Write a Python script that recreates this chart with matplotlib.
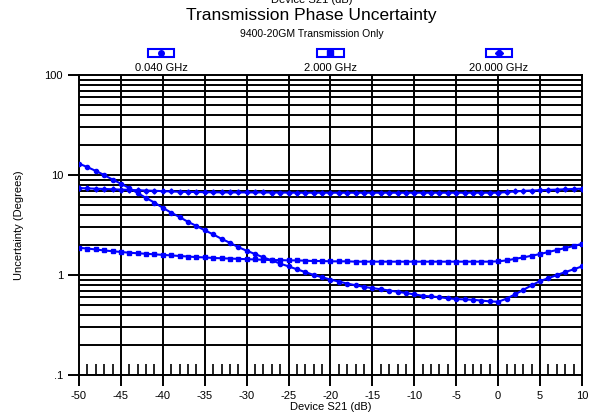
import numpy as np
import matplotlib.pyplot as plt
from matplotlib.patches import Rectangle

plt.rcParams['font.family'] = ['Liberation Sans', 'DejaVu Sans']
plt.rcParams['axes.unicode_minus'] = False

# Device S21 (dB)
s21 = list(range(-50, 11))

# 0.040 GHz (кружки)
u_040 = [13.0, 12.0, 11.0, 10.0, 9.0, 8.2, 7.4, 6.6, 5.9, 5.3,
         4.7, 4.2, 3.8, 3.4, 3.1, 2.8, 2.55, 2.3, 2.1, 1.9,
         1.75, 1.62, 1.5, 1.4, 1.3, 1.22, 1.14, 1.07, 1.0, 0.95,
         0.9, 0.86, 0.82, 0.79, 0.76, 0.74, 0.72, 0.70, 0.68, 0.66,
         0.64, 0.62, 0.61, 0.60, 0.585, 0.575, 0.57, 0.565, 0.555, 0.545,
         0.54, 0.58, 0.64, 0.71, 0.79, 0.87, 0.93, 1.0, 1.07, 1.14, 1.22]

# 2.000 GHz (квадраты)
u_2000 = [1.87, 1.84, 1.80, 1.76, 1.73, 1.70, 1.67, 1.65, 1.63, 1.61,
          1.59, 1.57, 1.55, 1.53, 1.51, 1.50, 1.48, 1.47, 1.46, 1.45,
          1.44, 1.43, 1.42, 1.41, 1.41, 1.40, 1.40, 1.39, 1.38, 1.38,
          1.37, 1.37, 1.37, 1.36, 1.36, 1.36, 1.36, 1.36, 1.36, 1.36,
          1.36, 1.36, 1.36, 1.36, 1.36, 1.36, 1.36, 1.36, 1.36, 1.36,
          1.37, 1.40, 1.45, 1.50, 1.56, 1.62, 1.70, 1.78, 1.86, 1.95, 2.05]

# 20.000 GHz (ромбы)
u_20000 = [7.4, 7.35, 7.3, 7.25, 7.2, 7.15, 7.1, 7.05, 7.0, 6.95,
           6.9, 6.85, 6.8, 6.78, 6.76, 6.74, 6.72, 6.71, 6.7, 6.7,
           6.7, 6.7, 6.7, 6.68, 6.68, 6.66, 6.66, 6.65, 6.65, 6.65,
           6.65, 6.65, 6.65, 6.65, 6.65, 6.65, 6.65, 6.65, 6.65, 6.65,
           6.65, 6.65, 6.65, 6.65, 6.65, 6.65, 6.65, 6.65, 6.65, 6.65,
           6.65, 6.75, 6.85, 6.95, 7.0, 7.05, 7.1, 7.15, 7.2, 7.25, 7.3]

labels = ['0.040 GHz', '2.000 GHz', '20.000 GHz']
markers = ['o', 's', 'D']
series = [u_040, u_2000, u_20000]
blue = '#0000ff'

fig = plt.figure(figsize=(5.97, 4.17), dpi=100)
ax = fig.add_axes([0.1323, 0.1007, 0.8426, 0.7194])

# Сетка
for yv in [k * 10.0 ** d for d in (-1, 0, 1) for k in range(1, 10)]:
    ax.axhline(yv, color='black', lw=1.4, zorder=1)
for xv in range(-45, 10, 5):
    ax.axvline(xv, color='black', lw=1.4, zorder=1)

# Кривые
msizes = [3, 2.6, 2.6]
for u, m, ms in zip(series, markers, msizes):
    ax.plot(s21, u, color=blue, lw=1.5, marker=m, ms=ms, zorder=3)

ax.set_yscale('log')
ax.set_xlim(-50, 10)
ax.set_ylim(0.1, 100)
ax.set_xticks(range(-50, 11, 5))
ax.set_xticks(range(-50, 11), minor=True)
ax.set_yticks([0.1, 1, 10, 100])
ax.set_yticklabels(['.1', '1', '10', '100'])
ax.yaxis.set_minor_locator(plt.NullLocator())
ax.tick_params(axis='both', which='major', direction='out', length=8, width=1.4, labelsize=8)
ax.tick_params(axis='x', which='minor', direction='in', length=8, width=1.2)
for sp in ax.spines.values():
    sp.set_linewidth(1.4)

ax.set_xlabel('Device S21 (dB)', fontsize=8, labelpad=1)
ax.set_ylabel('Uncertainty (Degrees)', fontsize=8, labelpad=15)

# Легенда сверху
xpos = [0.163, 0.5, 0.834]
bw, bh = 26 / 503, 8 / 300
for xp, lab, m in zip(xpos, labels, markers):
    ax.add_patch(Rectangle((xp - bw / 2, 1.06), bw, bh, transform=ax.transAxes,
                           fill=False, edgecolor=blue, lw=1.5, clip_on=False))
    ax.plot([xp], [1.06 + bh / 2], transform=ax.transAxes, marker=m, ms=4,
            color=blue, clip_on=False)
    ax.text(xp, 1.023, lab, transform=ax.transAxes, ha='center', va='center', fontsize=8)

fig.text(0.522, 1.0, 'Device S21 (dB)', ha='center', va='center', fontsize=8)
fig.text(0.522, 0.962, 'Transmission Phase Uncertainty', ha='center', va='center', fontsize=12.5)
fig.text(0.522, 0.918, '9400-20GM Transmission Only', ha='center', va='center', fontsize=7.5)

fig.savefig('out.png', dpi=100)
